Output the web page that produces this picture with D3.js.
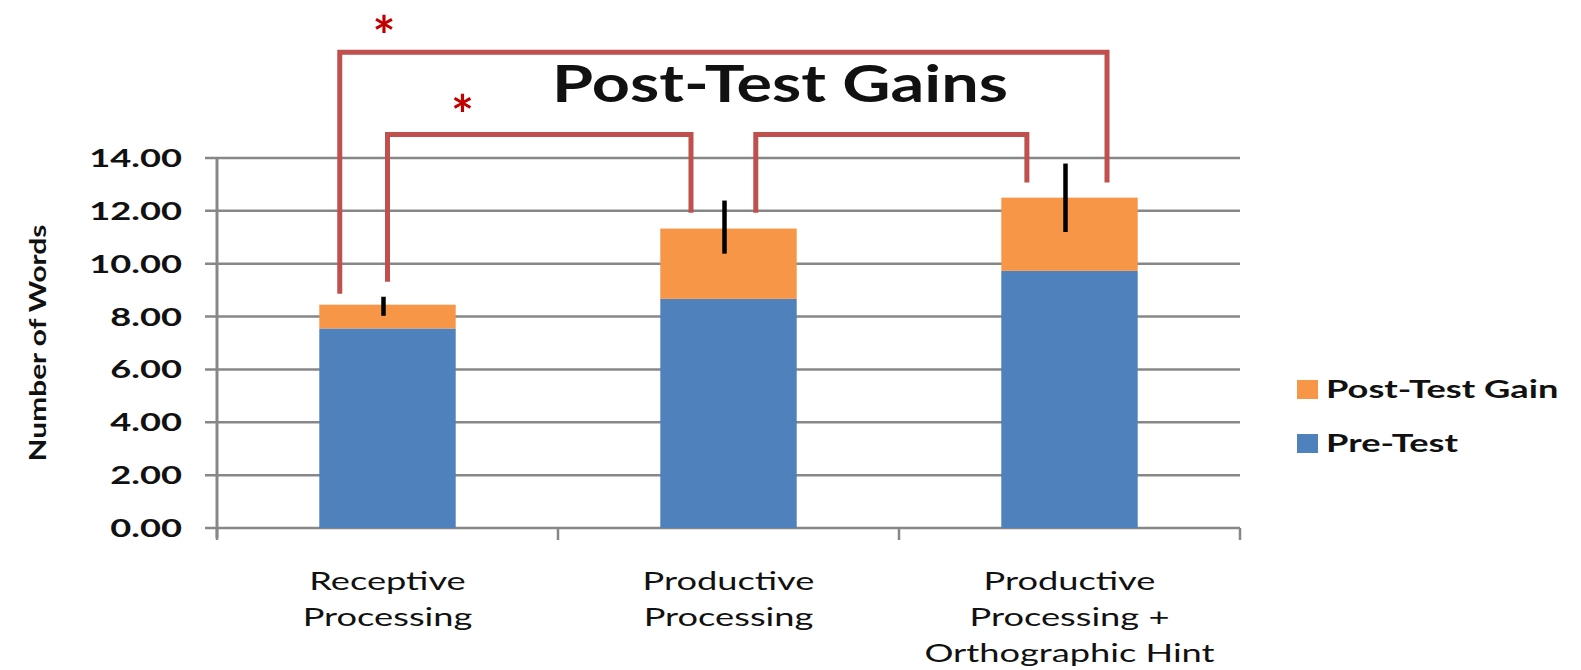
<!DOCTYPE html>
<html>
<head>
<meta charset="utf-8">
<script src="https://cdn.jsdelivr.net/npm/d3@7"></script>
<style>
  body { margin: 0; background: #fff; }
  text { font-family: Lato, "Open Sans", sans-serif; fill: #111; }
</style>
</head>
<body>
<div id="chart"></div>
<script>
// Chart data
const categories = ["Receptive Processing", "Productive Processing", "Productive Processing + Orthographic Hint"];
const categoryLines = [["Receptive", "Processing"], ["Productive", "Processing"], ["Productive", "Processing +", "Orthographic Hint"]];
const preTest = [7.55, 8.67, 9.73];
const postGain = [0.90, 2.66, 2.77];
const errLow = [8.03, 10.38, 11.20];
const errHigh = [8.75, 12.39, 13.79];
const yTicks = [0, 2, 4, 6, 8, 10, 12, 14];
const seriesNames = ["Post-Test Gain", "Pre-Test"];

// significance brackets: legs given as [category index, offset in steps, bottom value]
const brackets = [
    { top: 18.0, legs: [[0, -0.14, 8.86], [2, 0.11, 13.07]] },
    { top: 14.89, legs: [[0, 0.0, 9.32], [1, -0.11, 11.93]] },
    { top: 14.89, legs: [[1, 0.08, 11.93], [2, -0.125, 13.07]] }
];
const stars = [[0, -0.01, 17.9], [0, 0.22, 14.9]];

const width = 1581, height = 670;
const colors = { pre: "#4F81BD", gain: "#F79646", grid: "#878787", red: "#C0504D", star: "#C00000" };

const svg = d3.select("#chart").append("svg")
    .attr("width", width)
    .attr("height", height);

const x = d3.scaleBand()
    .domain(categories)
    .range([217, 1240])
    .paddingInner(0.6)
    .paddingOuter(0.3);

const y = d3.scaleLinear()
    .domain([0, 14])
    .range([528, 158]);

const step = x.step();
const cx = i => x(categories[i]) + x.bandwidth() / 2;

// Text stretched horizontally, like the wide lettering of the original
function wideText(parent, px, py, sx, anchor) {
    return parent.append("text")
        .attr("transform", `translate(${px},${py}) scale(${sx},1)`)
        .attr("text-anchor", anchor);
}

// Gridlines
svg.append("g")
    .selectAll("line")
    .data(yTicks)
    .join("line")
    .attr("x1", 205)
    .attr("x2", 1240)
    .attr("y1", d => y(d))
    .attr("y2", d => y(d))
    .style("stroke", colors.grid)
    .style("stroke-width", 2.5);

// Y tick labels
yTicks.forEach(t => {
    wideText(svg, 182, y(t) + 9, 1.45, "end")
        .style("font-size", "25px")
        .style("font-weight", "bold")
        .text(t.toFixed(2));
});

// Y axis line
svg.append("line")
    .attr("x1", 217).attr("x2", 217)
    .attr("y1", y(14)).attr("y2", y(0) + 10)
    .style("stroke", colors.grid)
    .style("stroke-width", 3);

// X axis ticks
const xTickPos = d3.range(categories.length + 1).map(i => 217 + i * step);
svg.append("g")
    .selectAll("line")
    .data(xTickPos)
    .join("line")
    .attr("x1", d => d).attr("x2", d => d)
    .attr("y1", y(0)).attr("y2", y(0) + 12)
    .style("stroke", colors.grid)
    .style("stroke-width", 2.5);

// Bars: pre-test
svg.append("g")
    .selectAll("rect")
    .data(preTest)
    .join("rect")
    .attr("x", (d, i) => x(categories[i]))
    .attr("y", d => y(d))
    .attr("width", x.bandwidth())
    .attr("height", d => y(0) - y(d))
    .style("fill", colors.pre);

// Bars: post-test gain stacked on top
svg.append("g")
    .selectAll("rect")
    .data(postGain)
    .join("rect")
    .attr("x", (d, i) => x(categories[i]))
    .attr("y", (d, i) => y(preTest[i] + d))
    .attr("width", x.bandwidth())
    .attr("height", (d, i) => y(preTest[i]) - y(preTest[i] + d))
    .style("fill", colors.gain);

// Error bars
svg.append("g")
    .selectAll("line")
    .data(errLow)
    .join("line")
    .attr("x1", (d, i) => cx(i) - 4)
    .attr("x2", (d, i) => cx(i) - 4)
    .attr("y1", d => y(d))
    .attr("y2", (d, i) => y(errHigh[i]))
    .style("stroke", "#000")
    .style("stroke-width", 4.5);

// X category labels
categoryLines.forEach((lines, i) => {
    lines.forEach((line, j) => {
        wideText(svg, cx(i), 590 + j * 36, 1.45, "middle")
            .style("font-size", "25px")
            .text(line);
    });
});

// Y axis title
svg.append("text")
    .attr("transform", "translate(46,343) rotate(-90) scale(1.3,1)")
    .attr("text-anchor", "middle")
    .style("font-size", "23px")
    .style("font-weight", "bold")
    .text("Number of Words");

// Chart title
wideText(svg, 780, 102, 1.28, "middle")
    .style("font-size", "52px")
    .style("font-weight", "bold")
    .text("Post-Test Gains");

// Significance brackets
brackets.forEach(b => {
    const [l, r] = b.legs;
    const xl = cx(l[0]) + l[1] * step;
    const xr = cx(r[0]) + r[1] * step;
    const path = d3.path();
    path.moveTo(xl, y(l[2]));
    path.lineTo(xl, y(b.top));
    path.lineTo(xr, y(b.top));
    path.lineTo(xr, y(r[2]));
    svg.append("path")
        .attr("d", path.toString())
        .style("fill", "none")
        .style("stroke", colors.red)
        .style("stroke-width", 5)
        .style("stroke-linejoin", "miter");
});

// Significance stars
svg.append("g")
    .selectAll("text")
    .data(stars)
    .join("text")
    .attr("x", d => cx(d[0]) + d[1] * step)
    .attr("y", d => y(d[2]))
    .attr("text-anchor", "middle")
    .style("font-size", "54px")
    .style("font-weight", "bold")
    .style("fill", colors.star)
    .text("*");

// Legend
seriesNames.forEach((name, i) => {
    const ly = 380 + i * 54;
    svg.append("rect")
        .attr("x", 1297)
        .attr("y", ly)
        .attr("width", 21)
        .attr("height", 19)
        .style("fill", i === 0 ? colors.gain : colors.pre);
    wideText(svg, 1326, ly + 18, 1.45, "start")
        .style("font-size", "25px")
        .style("font-weight", "bold")
        .text(name);
});
</script>
</body>
</html>
